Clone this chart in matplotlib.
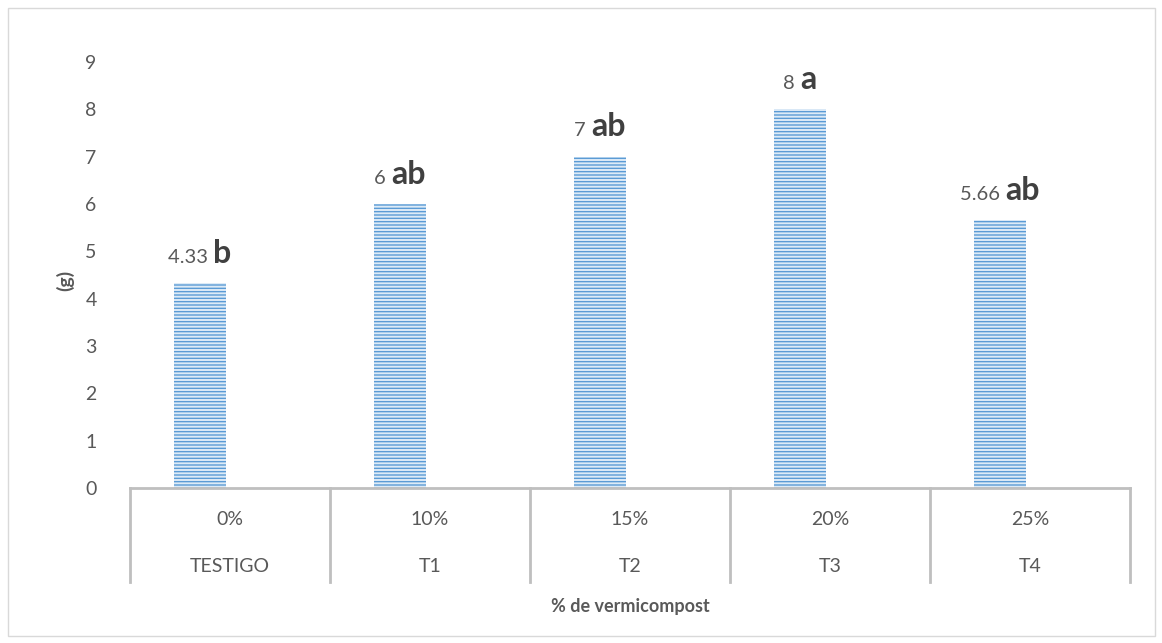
import matplotlib.pyplot as plt
from matplotlib.offsetbox import TextArea, HPacker, AnnotationBbox
from matplotlib.patches import Rectangle
import matplotlib.transforms as mtransforms

plt.rcParams['font.family'] = ['Lato', 'DejaVu Sans']
plt.rcParams['hatch.linewidth'] = 1.0

porcentajes = ['0%', '10%', '15%', '20%', '25%']
tratamientos = ['TESTIGO', 'T1', 'T2', 'T3', 'T4']
valores = [4.33, 6, 7, 8, 5.66]
etiquetas_valor = ['4.33', '6', '7', '8', '5.66']
letras = ['b', 'ab', 'ab', 'a', 'ab']

GRIS = '#595959'
LINEA = '#BFBFBF'
AZUL = '#5B9BD5'
DESPLAZ = -0.15  # las barras van corridas a la izquierda del centro de la categoria

fig = plt.figure(figsize=(11.62, 6.43), dpi=100)
ax = fig.add_axes([0.1119, 0.2411, 0.8606, 0.6625])

x = list(range(len(valores)))
xb = [i + DESPLAZ for i in x]
ax.bar(xb, valores, width=0.26, color='#DDEBF7', edgecolor=AZUL,
       linewidth=0, hatch='-----')

ax.set_xlim(-0.5, len(valores) - 0.5)
ax.set_ylim(0, 9)
ax.set_yticks(range(0, 10))
ax.tick_params(axis='y', length=0, pad=24, labelsize=14, labelcolor=GRIS)
ax.set_xticks([])
for s in ['left', 'right', 'top']:
    ax.spines[s].set_visible(False)
ax.spines['bottom'].set_color(LINEA)
ax.spines['bottom'].set_linewidth(2)

# etiquetas encima de las barras: valor + letra de significancia
for xi, v, txt, let in zip(xb, valores, etiquetas_valor, letras):
    t1 = TextArea(txt + ' ', textprops=dict(color=GRIS, fontsize=14.5))
    t2 = TextArea(let, textprops=dict(color='#404040', fontsize=23, fontweight='bold'))
    box = HPacker(children=[t1, t2], align='baseline', pad=0, sep=0)
    ab = AnnotationBbox(box, (xi, v), xybox=(0, 11), xycoords='data',
                        boxcoords='offset points', box_alignment=(0.5, 0),
                        frameon=False, annotation_clip=False)
    ax.add_artist(ab)

# tabla de categorias bajo el eje
trans = mtransforms.blended_transform_factory(ax.transData, ax.transAxes)
for b in [i - 0.5 for i in range(len(valores) + 1)]:
    ax.plot([b, b], [0, -0.2207], color=LINEA, lw=2, transform=trans, clip_on=False)
for xi, p, t in zip(x, porcentajes, tratamientos):
    ax.text(xi, -0.075, p, transform=trans, ha='center', va='center',
            fontsize=14, color=GRIS)
    ax.text(xi, -0.185, t, transform=trans, ha='center', va='center',
            fontsize=14, color=GRIS)

ax.text(0.5, -0.279, '% de vermicompost', transform=ax.transAxes, ha='center',
        va='center', fontsize=13, fontweight='bold', color=GRIS)
ax.text(-0.065, 0.488, '(g)', transform=ax.transAxes, ha='center', va='center',
        rotation=90, fontsize=14, fontweight='bold', color=GRIS)

fig.patches.append(Rectangle((0.007, 0.011), 0.987, 0.977, transform=fig.transFigure,
                             fill=False, edgecolor='#D9D9D9', lw=1))

fig.savefig('out.png', dpi=100)
